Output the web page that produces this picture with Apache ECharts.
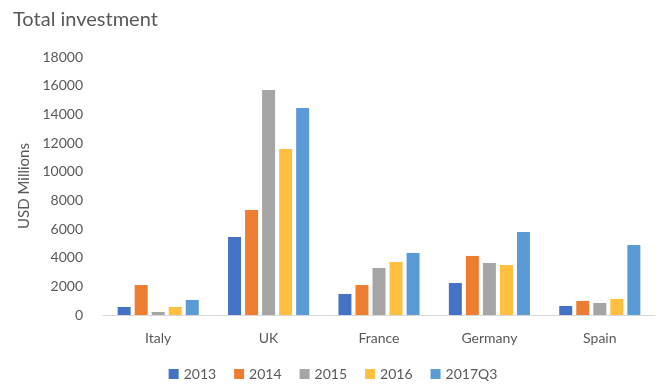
<!DOCTYPE html>
<html><head><meta charset="utf-8">
<script src="https://cdn.jsdelivr.net/npm/echarts@6/dist/echarts.min.js"></script>
<style>html,body{margin:0;padding:0;background:#fff}#c{width:666px;height:392px}</style>
</head><body><div id="c"></div>
<script>
var categories = ['Italy', 'UK', 'France', 'Germany', 'Spain'];
var seriesNames = ['2013', '2014', '2015', '2016', '2017Q3'];
var v2013 = [560, 5440, 1465, 2230, 630];
var v2014 = [2090, 7330, 2090, 4120, 980];
var v2015 = [210, 15700, 3280, 3630, 840];
var v2016 = [560, 11580, 3700, 3490, 1120];
var v2017Q3 = [1050, 14440, 4330, 5790, 4880];
var values = [v2013, v2014, v2015, v2016, v2017Q3];
var colors = ['#4472C4', '#ED7D31', '#A5A5A5', '#FFBF3F', '#5B9BD5'];
var font = 'Lato, "Open Sans", sans-serif';
var chart = echarts.init(document.getElementById('c'), null, {renderer: 'canvas'});
chart.setOption({
  animation: false,
  color: colors,
  title: {text: 'Total investment', left: 8, top: 5,
    textStyle: {fontFamily: font, fontSize: 20, fontWeight: 'normal', color: '#595959'}},
  legend: {bottom: 6, left: 'center', itemWidth: 10, itemHeight: 10, itemGap: 18, icon: 'rect',
    textStyle: {fontFamily: font, fontSize: 14, color: '#595959'}},
  grid: {left: 103, right: 11, top: 57, bottom: 77},
  xAxis: {type: 'category', data: categories,
    axisLine: {lineStyle: {color: '#D9D9D9', width: 1}}, axisTick: {show: false},
    axisLabel: {fontFamily: font, fontSize: 14, color: '#595959', margin: 16}},
  yAxis: {type: 'value', min: 0, max: 18000, interval: 2000,
    name: 'USD Millions', nameLocation: 'middle', nameGap: 64, nameRotate: 90,
    nameTextStyle: {fontFamily: font, fontSize: 15, color: '#595959'},
    axisLine: {show: false}, axisTick: {show: false}, splitLine: {show: false},
    axisLabel: {fontFamily: font, fontSize: 14, color: '#595959', margin: 20,
      formatter: function (v) { return String(v); }}},
  series: seriesNames.map(function (n, i) {
    return {name: n, type: 'bar', data: values[i], barWidth: 13, barGap: '31%'};
  })
});
</script></body></html>
